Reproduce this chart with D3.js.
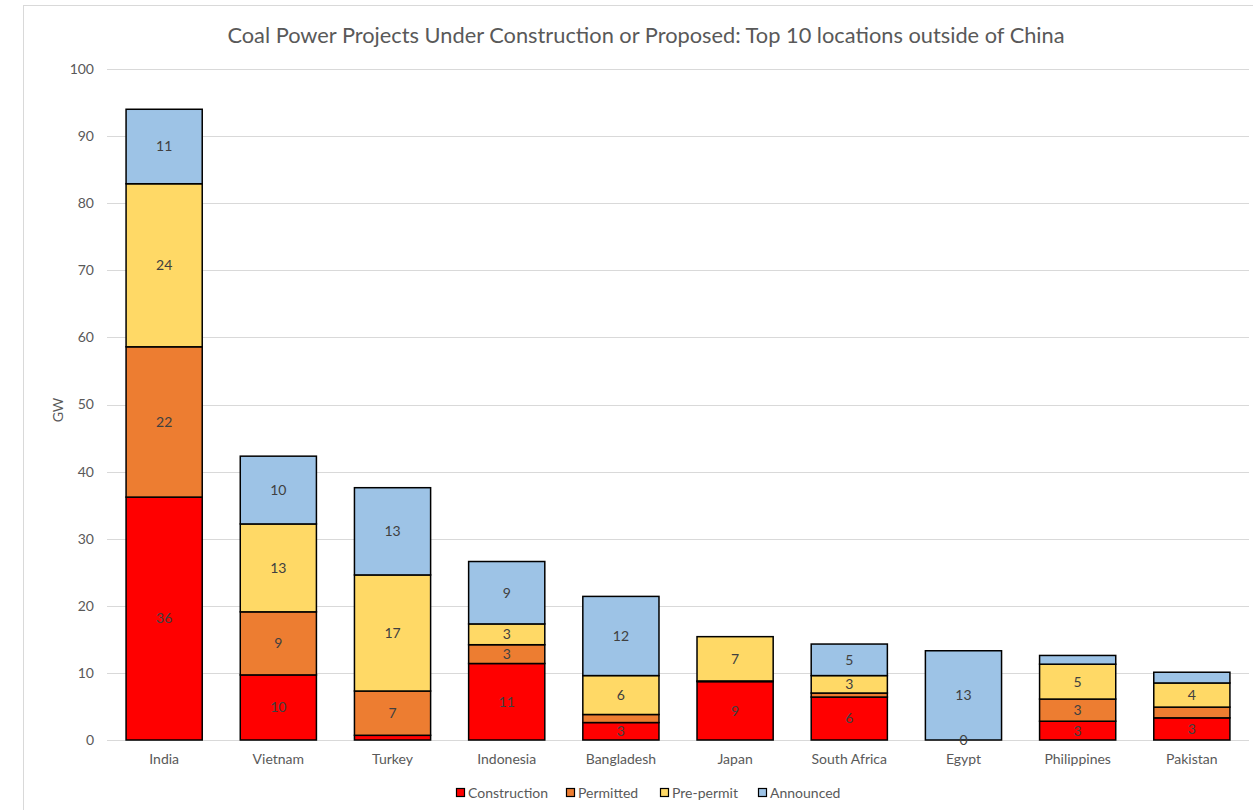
<!DOCTYPE html>
<html>
<head>
<meta charset="utf-8">
<script src="https://cdn.jsdelivr.net/npm/d3@7"></script>
<style>
  body { margin: 0; background: #fff; }
  text { font-family: Lato, "Open Sans", sans-serif; }
</style>
</head>
<body>
<svg id="chart" width="1253" height="810"></svg>
<script>
// data (GW)
var countries = ["India", "Vietnam", "Turkey", "Indonesia", "Bangladesh", "Japan", "South Africa", "Egypt", "Philippines", "Pakistan"];
var construction = [36.2, 9.7, 0.7, 11.4, 2.6, 8.7, 6.4, 0, 2.8, 3.3];
var permitted    = [22.4, 9.4, 6.6, 2.8, 1.2, 0.1, 0.6, null, 3.3, 1.6];
var prePermit    = [24.3, 13.1, 17.3, 3.1, 5.8, 6.6, 2.6, null, 5.2, 3.6];
var announced    = [11.1, 10.1, 13.0, 9.3, 11.8, null, 4.7, 13.3, 1.3, 1.6];
var seriesNames  = ["Construction", "Permitted", "Pre-permit", "Announced"];
var seriesColors = ["#FF0000", "#ED7D31", "#FFD966", "#9DC3E6"];
var yTicks = [0, 10, 20, 30, 40, 50, 60, 70, 80, 90, 100];

var svg = d3.select("#chart");

// chart frame
svg.append("rect")
    .attr("x", 23.5).attr("y", 5.5)
    .attr("width", 1260).attr("height", 820)
    .attr("fill", "none").attr("stroke", "#d9d9d9");

var x = d3.scaleBand().domain(countries).range([107, 1249]).paddingInner(0.333).paddingOuter(0.167);
var y = d3.scaleLinear().domain([0, 100]).range([740, 69]);

// gridlines
svg.append("g")
    .selectAll("line")
    .data(yTicks)
    .enter().append("line")
      .attr("x1", 107).attr("x2", 1249)
      .attr("y1", function(d) { return Math.round(y(d)) + 0.5; })
      .attr("y2", function(d) { return Math.round(y(d)) + 0.5; })
      .attr("stroke", "#d9d9d9")
      .attr("stroke-width", 1.2);

// y tick labels
svg.append("g")
    .selectAll("text")
    .data(yTicks)
    .enter().append("text")
      .attr("x", 94)
      .attr("y", function(d) { return y(d); })
      .attr("dy", "0.35em")
      .attr("text-anchor", "end")
      .attr("font-size", 14)
      .attr("fill", "#595959")
      .text(function(d) { return d; });

// stack
var rows = countries.map(function(c, i) {
  return { country: c, Construction: construction[i], Permitted: permitted[i], "Pre-permit": prePermit[i], Announced: announced[i] };
});
var stacked = d3.stack()
    .keys(seriesNames)
    .value(function(d, k) { return d[k] == null ? 0 : d[k]; })(rows);

var layer = svg.append("g")
    .selectAll("g")
    .data(stacked)
    .enter().append("g")
      .attr("fill", function(d, i) { return seriesColors[i]; });

layer.selectAll("rect")
    .data(function(d) { return d.filter(function(p) { return p[1] - p[0] > 0; }); })
    .enter().append("rect")
      .attr("x", function(d) { return x(d.data.country); })
      .attr("width", x.bandwidth())
      .attr("y", function(d) { return y(d[1]); })
      .attr("height", function(d) { return y(d[0]) - y(d[1]); })
      .attr("stroke", "#000")
      .attr("stroke-width", 1.5);

// data labels, drawn on top of all bars
var labels = [];
stacked.forEach(function(s) {
  s.forEach(function(p) {
    var v = p.data[s.key];
    if (v != null && (v >= 2.5 || v === 0)) labels.push({ country: p.data.country, v: v, mid: (p[0] + p[1]) / 2 });
  });
});

svg.append("g")
    .selectAll("text")
    .data(labels)
    .enter().append("text")
      .attr("x", function(d) { return x(d.country) + x.bandwidth() / 2; })
      .attr("y", function(d) { return y(d.mid); })
      .attr("dy", "0.35em")
      .attr("text-anchor", "middle")
      .attr("font-size", 14)
      .attr("fill", "#404040")
      .text(function(d) { return Math.round(d.v); });

// x axis labels
svg.append("g")
    .selectAll("text")
    .data(countries)
    .enter().append("text")
      .attr("x", function(d) { return x(d) + x.bandwidth() / 2; })
      .attr("y", 759)
      .attr("dy", "0.35em")
      .attr("text-anchor", "middle")
      .attr("font-size", 14)
      .attr("fill", "#595959")
      .text(function(d) { return d; });

// title
svg.append("text")
    .attr("x", 646).attr("y", 35)
    .attr("dy", "0.35em")
    .attr("text-anchor", "middle")
    .attr("font-size", 21.8)
    .attr("fill", "#595959")
    .text("Coal Power Projects Under Construction or Proposed: Top 10 locations outside of China");

// y axis title
svg.append("text")
    .attr("transform", "translate(58,410) rotate(-90)")
    .attr("dy", "0.35em")
    .attr("text-anchor", "middle")
    .attr("font-size", 14)
    .attr("fill", "#595959")
    .text("GW");

// legend
var legendX = [456, 566, 660, 758];
var legend = svg.append("g")
    .selectAll("g")
    .data(seriesNames)
    .enter().append("g")
      .attr("transform", function(d, i) { return "translate(" + legendX[i] + ",793)"; });

legend.append("rect")
    .attr("x", 0.5).attr("y", -4.5)
    .attr("width", 8).attr("height", 8)
    .attr("fill", function(d, i) { return seriesColors[i]; })
    .attr("stroke", "#000")
    .attr("stroke-width", 1.2);

legend.append("text")
    .attr("x", 12)
    .attr("dy", "0.35em")
    .attr("font-size", 14)
    .attr("fill", "#595959")
    .text(function(d) { return d; });
</script>
</body>
</html>
